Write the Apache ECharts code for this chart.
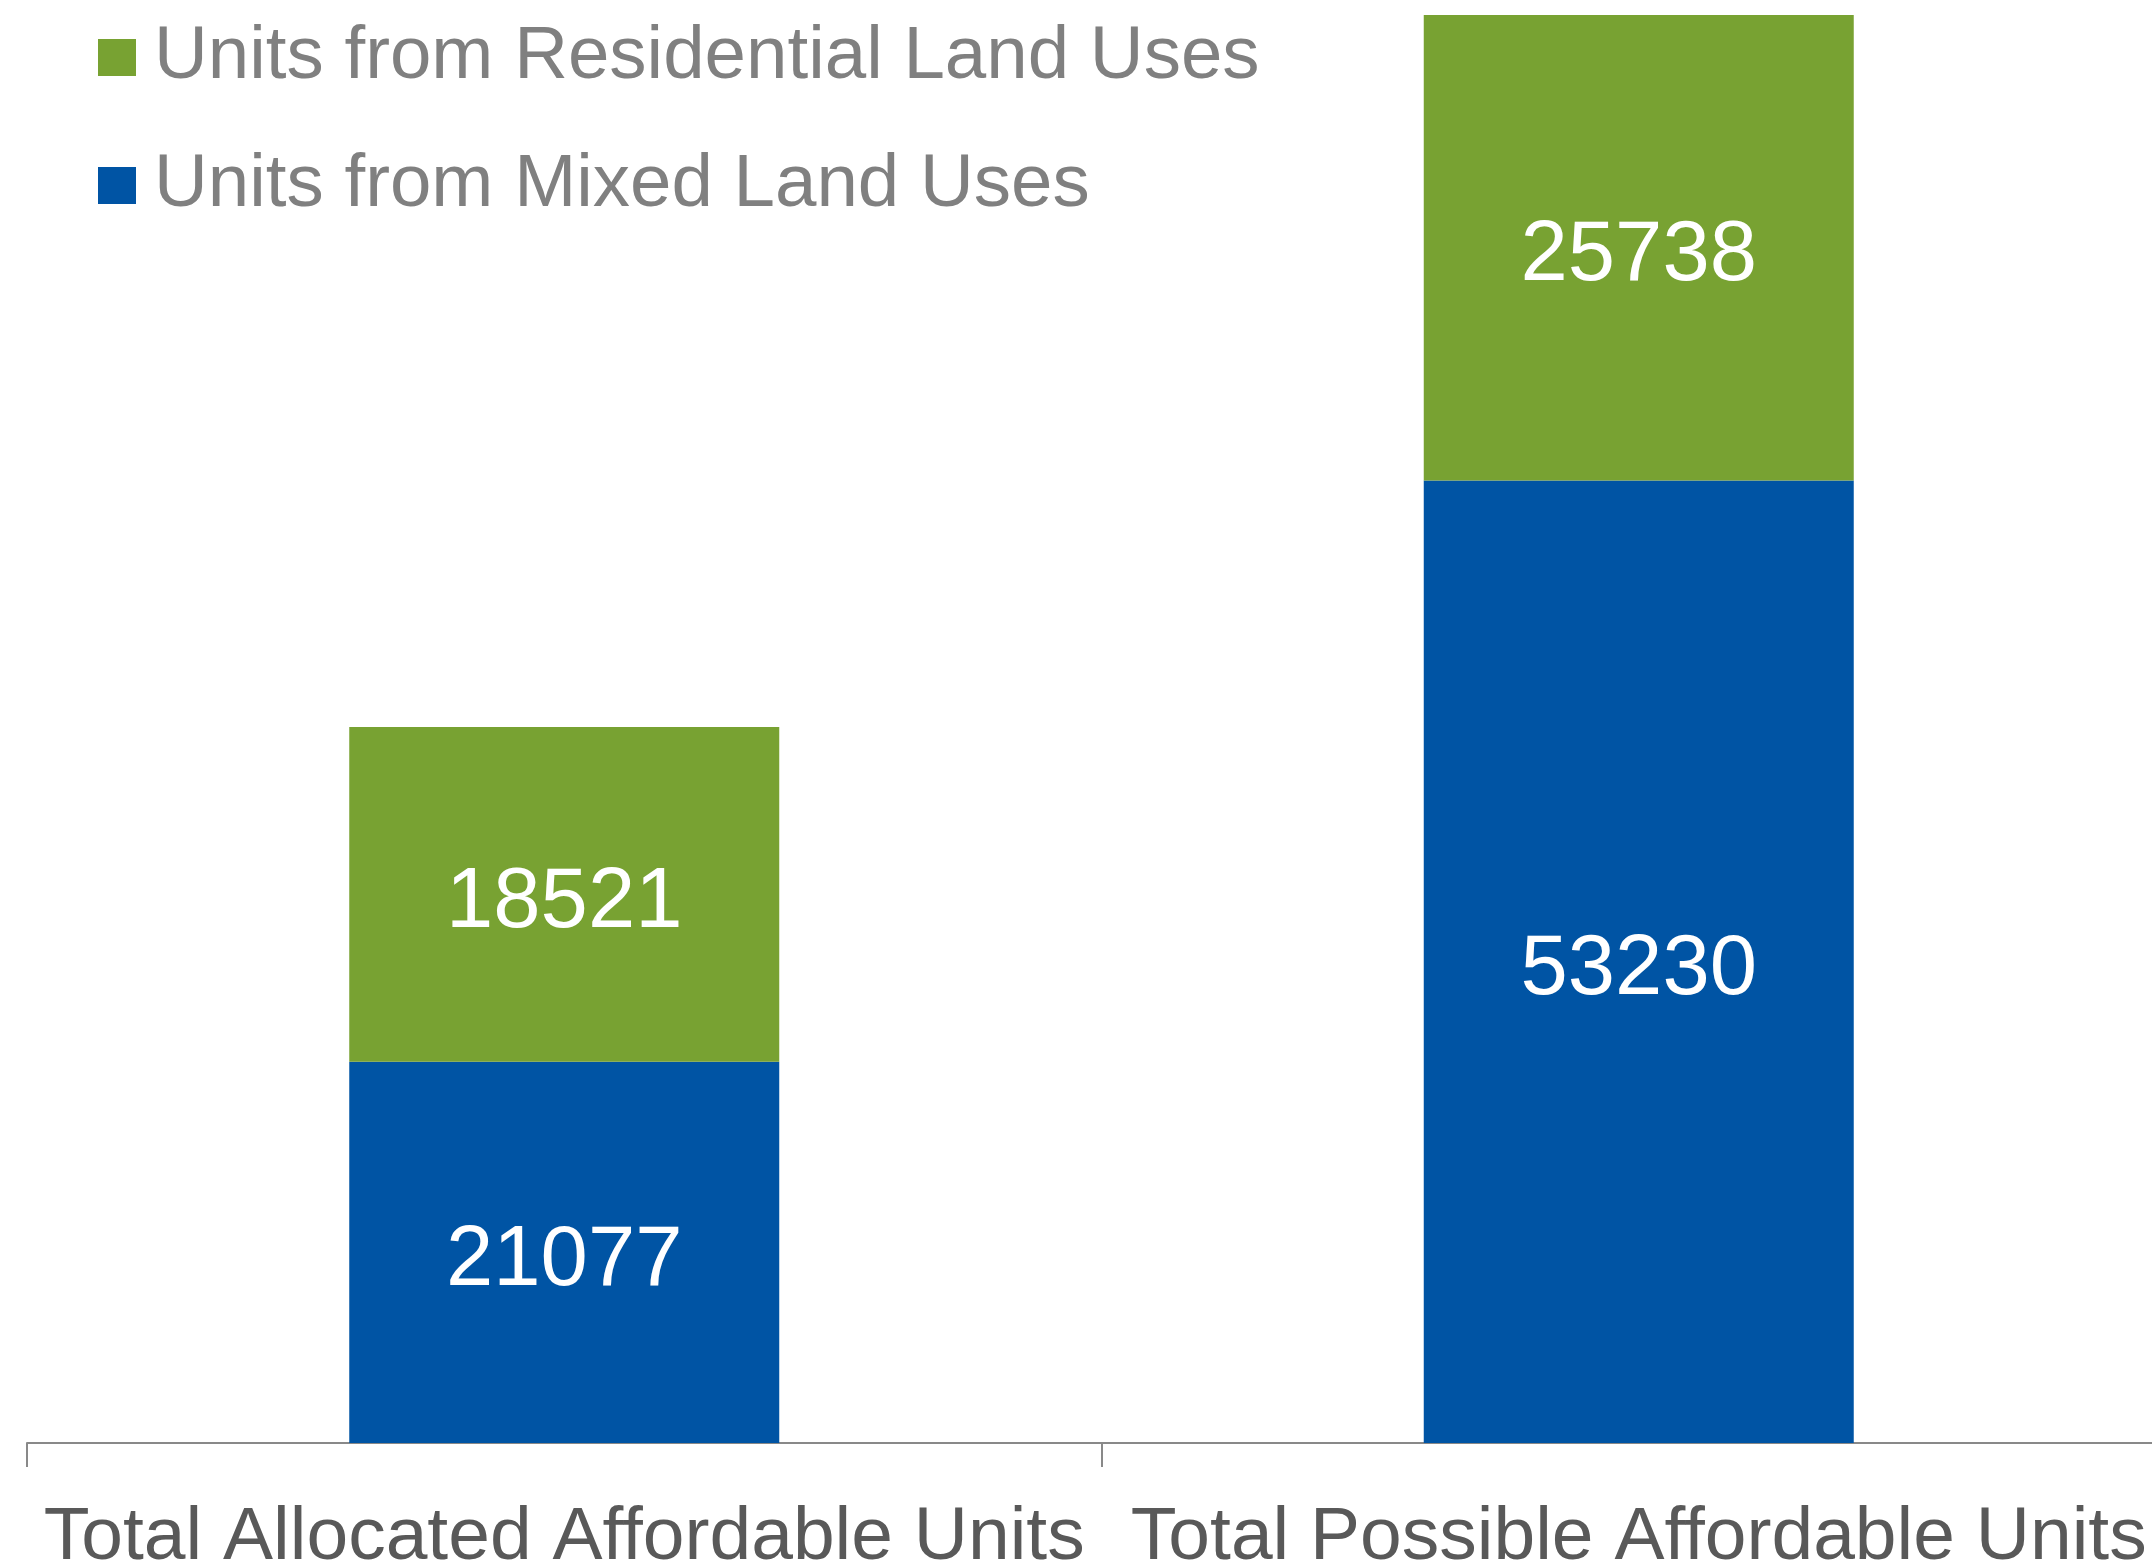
<!DOCTYPE html>
<html>
<head>
<meta charset="utf-8">
<script src="https://cdn.jsdelivr.net/npm/echarts@6/dist/echarts.min.js"></script>
<style>html,body{margin:0;padding:0;background:#fff;overflow:hidden}#c{width:2176px;height:1562px}</style>
</head>
<body>
<div id="c"></div>
<script>
const categories = ['Total Allocated Affordable Units', 'Total Possible Affordable Units'];
const mixedUnits = [21077, 53230];
const residentialUnits = [18521, 25738];
const seriesNames = ['Units from Mixed Land Uses', 'Units from Residential Land Uses'];
const colors = { mixed: '#0054A4', residential: '#78A232' };

const chart = echarts.init(document.getElementById('c'), null, { renderer: 'canvas' });
const labelStyle = {
  show: true, position: 'inside', color: '#ffffff', offset: [0, 9],
  fontFamily: 'Liberation Sans, Arial, sans-serif', fontSize: 85
};
chart.setOption({
  animation: false,
  backgroundColor: '#ffffff',
  legend: {
    orient: 'vertical',
    left: 98, top: 20,
    padding: 0,
    itemWidth: 38, itemHeight: 37,
    itemGap: 53,
    icon: 'rect',
    data: [seriesNames[1], seriesNames[0]],
    textStyle: {
      color: '#808080', fontSize: 74.5, lineHeight: 74,
      fontFamily: 'Liberation Sans, Arial, sans-serif',
      padding: [0, 0, 0, 13]
    }
  },
  grid: { left: 27, right: 0, top: 15, bottom: 119, containLabel: false, outerBoundsMode: 'none' },
  xAxis: {
    type: 'category',
    data: categories,
    axisLine: { show: true, lineStyle: { color: '#898989', width: 2 } },
    axisTick: { show: true, length: 24, lineStyle: { color: '#898989', width: 2 } },
    axisLabel: {
      color: '#595959', fontSize: 75, lineHeight: 75, margin: 58,
      fontFamily: 'Liberation Sans, Arial, sans-serif', interval: 0
    }
  },
  yAxis: {
    type: 'value',
    min: 0,
    max: function (v) { return v.max; },
    show: false,
    splitLine: { show: false }
  },
  series: [
    {
      name: seriesNames[0], type: 'bar', stack: 'total',
      data: mixedUnits, barWidth: 430,
      itemStyle: { color: colors.mixed },
      label: labelStyle
    },
    {
      name: seriesNames[1], type: 'bar', stack: 'total',
      data: residentialUnits, barWidth: 430,
      itemStyle: { color: colors.residential },
      label: labelStyle
    }
  ]
});
</script>
</body>
</html>
